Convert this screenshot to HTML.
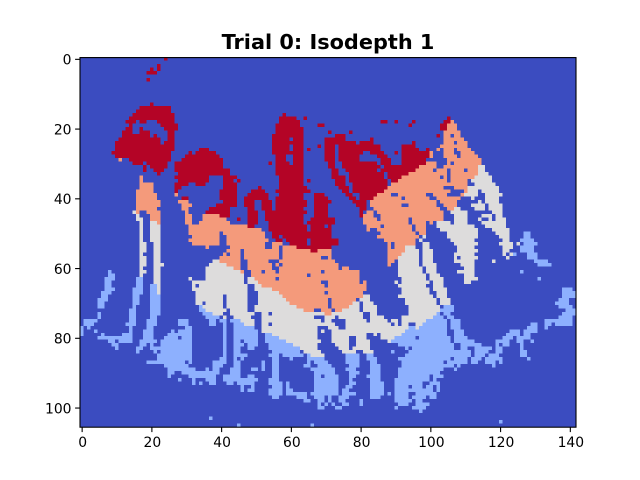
<!DOCTYPE html>
<html>
<head>
<meta charset="utf-8">
<title>Trial 0: Isodepth 1</title>
<style>
html,body{margin:0;padding:0;background:#fff;}
svg{display:block;}
text{font-family:"DejaVu Sans","Liberation Sans",sans-serif;fill:#000;}
</style>
</head>
<body>
<svg id="chart" width="640" height="480" viewBox="0 0 640 480" xmlns="http://www.w3.org/2000/svg">
<rect x="0" y="0" width="640" height="480" fill="#ffffff"/>
<text x="328" y="49" text-anchor="middle" font-size="20.83" font-weight="bold">Trial 0: Isodepth 1</text>
<g id="cells" shape-rendering="crispEdges"></g>
<g id="ticks"></g>
<rect x="80" y="57.6" width="496" height="369.6" fill="none" stroke="#000" stroke-width="1.1"/>
</svg>
<script>
const xTicks = [0, 20, 40, 60, 80, 100, 120, 140];
const yTicks = [0, 20, 40, 60, 80, 100];
const columnCount = 142;
const levelColors = ["#3b4cc0", "#8db0fe", "#dddcdc", "#f49a7b", "#b40426"];
// Each row lists triples: first column, last column, isodepth level. Unlisted cells are level 0.
const rowRuns = [
[24,24,4],
[],
[22,22,4],
[20,20,4,22,22,4],
[19,21,4],
[],
[19,19,4],
[],[],[],[],[],[],
[20,20,4],
[17,25,4],
[16,25,4],
[15,26,4,58,58,4],
[14,26,4,57,61,4,64,64,4,105,105,4],
[13,15,4,17,18,4,22,26,4,57,62,4,86,87,4,90,90,4,95,95,4,104,105,4,106,106,3],
[14,14,4,23,27,4,56,62,4,68,69,4,94,94,4,103,104,4,105,107,3],
[13,14,4,17,17,4,24,27,4,56,63,4,103,104,4,105,107,3],
[12,14,4,17,19,4,25,26,4,56,63,4,71,71,4,77,77,4,104,108,3],
[12,19,4,21,21,4,25,26,4,55,63,4,73,75,4,102,102,4,104,105,3,107,108,3],
[11,22,4,25,26,4,55,59,4,61,63,4,70,75,4,83,83,4,104,109,3],
[10,22,4,24,26,4,55,63,4,70,78,4,80,83,4,95,95,4,104,106,3,108,110,3],
[10,26,4,55,59,4,61,63,4,68,68,4,70,72,4,74,85,4,92,95,4,103,110,3],
[10,26,4,34,36,4,55,59,4,61,63,4,65,65,4,70,72,4,74,85,4,92,96,4,99,99,4,102,102,3,104,106,3,108,111,3],
[9,25,4,31,31,4,33,38,4,55,63,4,70,72,4,74,80,4,83,86,4,90,90,4,92,99,4,100,100,3,104,106,3,109,112,3],
[10,25,4,30,39,4,56,58,4,61,63,4,70,72,4,74,79,4,85,87,4,92,99,4,100,100,3,104,107,3,109,113,3],
[11,11,3,14,25,4,29,40,4,56,58,4,61,63,4,70,72,4,74,79,4,86,88,4,92,98,4,105,114,3],
[15,17,4,19,24,4,27,40,4,54,54,4,56,59,4,61,63,4,71,72,4,75,84,4,86,88,4,92,98,4,99,101,3,105,105,3,107,114,3],
[18,18,4,20,24,4,27,40,4,56,63,4,71,72,4,75,85,4,87,96,4,97,101,3,104,113,3,114,115,2],
[18,18,4,21,23,4,27,42,4,56,63,4,72,73,4,76,84,4,86,95,4,96,100,3,102,104,3,106,109,3,111,113,3,114,115,2],
[22,22,4,28,42,4,56,63,4,72,73,4,77,86,4,88,93,4,94,104,3,106,113,3,114,116,2],
[17,17,3,27,36,4,41,44,4,57,63,4,72,75,4,77,86,4,88,91,4,92,102,3,104,104,3,106,112,3,113,117,2],
[17,17,3,28,36,4,41,43,4,45,45,4,57,63,4,65,65,4,73,75,4,77,87,4,89,90,4,91,104,3,106,110,3,112,117,2],
[17,20,3,27,30,4,33,35,4,41,44,4,57,63,4,73,75,4,78,87,4,89,110,3,113,118,2],
[17,20,3,27,28,4,41,44,4,51,51,4,57,64,4,74,76,4,78,87,4,88,103,3,107,110,3,111,119,2],
[16,20,3,27,27,4,40,44,4,49,52,4,56,65,4,75,76,4,78,86,4,87,105,3,110,110,3,111,113,2,115,119,2],
[16,21,3,27,27,3,40,44,4,48,53,4,57,63,4,67,69,4,76,77,4,80,84,4,85,88,3,91,98,3,101,104,3,109,109,3,110,113,2,116,120,2],
[16,21,3,29,30,4,40,44,4,47,53,4,56,63,4,67,70,4,77,78,4,80,83,4,84,91,3,93,99,3,102,108,3,112,112,2,116,119,2],
[16,22,3,28,30,3,41,44,4,47,49,4,52,54,4,56,64,4,67,71,4,78,81,4,83,101,3,103,107,3,114,114,2,116,119,2],
[16,22,3,29,31,3,39,44,4,47,49,4,52,54,4,56,64,4,67,70,4,79,81,4,83,91,3,94,101,3,104,107,3,112,115,2,117,120,2],
[16,21,3,29,30,3,37,42,4,48,49,4,52,54,4,56,63,4,67,70,4,80,81,4,84,102,3,105,106,3,107,108,2,113,115,2,117,120,2],
[15,15,2,16,16,3,19,22,3,30,30,3,36,42,4,48,50,4,53,64,4,67,70,4,80,80,4,82,83,3,85,103,3,106,110,2,118,120,2],
[16,16,2,20,22,3,30,31,3,35,39,3,40,42,4,48,50,4,53,63,4,67,70,4,80,80,4,81,83,3,86,103,3,107,110,2,115,117,2,119,120,2],
[16,17,2,20,22,3,30,31,3,35,41,3,45,45,4,48,50,4,53,63,4,66,72,4,81,84,3,86,93,3,95,103,3,107,110,2,114,114,2,117,117,2,119,121,2],
[17,17,2,20,21,2,22,22,3,30,31,3,34,42,3,48,50,4,54,63,4,65,72,4,81,93,3,95,98,3,100,100,3,102,105,2,107,110,2,115,121,2],
[17,17,2,20,22,2,31,47,3,48,49,4,54,64,4,66,69,4,71,71,4,82,85,3,87,94,3,96,98,3,102,112,2,116,121,2],
[17,17,2,20,22,2,31,51,3,54,64,4,66,71,4,82,82,3,85,94,3,96,98,3,103,113,2,118,122,2],
[17,17,2,20,22,2,31,39,3,41,52,3,55,71,4,86,95,3,97,98,3,105,113,2,119,122,2,127,128,1],
[17,17,2,20,22,2,32,39,3,42,52,3,55,56,4,58,71,4,85,96,3,98,98,2,105,113,2,120,122,2,127,128,1],
[17,17,2,20,22,2,31,39,3,42,53,3,56,57,4,59,64,4,66,73,4,87,95,3,97,97,2,106,112,2,121,122,2,126,129,1],
[17,18,2,21,22,2,32,39,3,42,52,3,55,57,3,60,64,4,66,73,4,88,88,3,90,95,3,98,99,2,107,113,2,120,123,2,125,125,2,127,130,1],
[17,18,2,21,22,2,36,36,3,43,52,3,55,56,3,58,61,3,62,71,4,88,88,3,90,92,3,93,95,2,98,99,2,108,112,2,121,123,2,126,129,1],
[17,18,2,21,22,2,42,45,3,47,56,3,58,65,3,66,67,4,68,71,3,88,92,3,93,96,2,98,100,2,108,113,2,121,122,2,126,129,1],
[17,17,2,21,22,2,41,41,3,43,45,3,47,56,3,58,71,3,88,91,3,92,96,2,98,100,2,107,112,2,121,121,2,123,123,2,124,124,1,128,130,1],
[17,18,2,21,22,2,40,45,3,47,56,3,58,68,3,71,71,3,88,90,3,91,96,2,98,100,2,107,107,2,109,113,2,122,122,2,128,130,1],
[17,18,2,21,22,2,38,39,2,40,45,3,48,53,3,57,72,3,88,89,3,91,96,2,98,100,2,107,112,2,118,118,2,130,133,1],
[17,18,2,21,23,2,37,41,2,42,45,3,48,54,3,56,56,3,58,73,3,88,88,3,91,96,2,98,101,2,109,112,2,131,134,1],
[17,17,2,21,22,2,36,43,2,44,45,3,48,54,3,57,73,3,75,76,3,91,97,2,99,101,2,110,112,2],
[8,8,1,17,18,2,21,22,2,36,45,2,46,46,3,49,51,3,53,55,3,57,68,3,70,79,3,91,97,2,99,101,2,108,112,2,126,126,1],
[8,9,1,17,17,2,21,22,2,36,46,2,49,64,3,66,79,3,91,98,2,100,102,2,110,112,2],
[7,9,1,16,17,1,21,22,2,31,31,2,36,46,2,48,49,2,50,55,3,57,79,3,92,98,2,100,103,2,110,113,2,131,131,1],
[7,8,1,16,17,1,21,22,2,32,46,2,48,50,2,51,68,3,71,79,3,81,81,3,90,90,2,92,99,2,101,103,2,110,111,2],
[7,8,1,16,17,1,20,21,1,22,22,2,32,32,2,34,47,2,50,51,2,52,69,3,71,81,3,91,98,2,101,103,2],
[7,9,1,15,17,1,20,21,1,22,22,2,32,47,2,50,54,2,55,81,3,92,99,2,101,104,2,138,140,1],
[6,8,1,15,17,1,20,21,1,22,22,2,33,47,2,51,56,2,57,69,3,71,80,3,92,99,2,102,104,2,138,141,1],
[6,7,1,15,16,1,20,22,1,33,40,2,42,47,2,51,57,2,58,80,3,81,82,2,91,100,2,102,104,2,138,141,1],
[5,7,1,15,16,1,20,22,1,33,40,2,42,47,2,51,58,2,59,70,3,72,78,3,80,82,2,93,101,2,103,105,2,137,139,1],
[5,6,1,15,16,1,20,22,1,33,34,2,36,40,2,42,47,2,51,59,2,60,70,3,72,77,3,78,79,2,81,83,2,93,101,2,103,105,2,136,139,1],
[5,6,1,15,15,1,20,22,1,34,34,1,35,40,2,42,47,2,50,61,2,62,70,3,72,76,3,77,79,2,81,84,2,94,102,2,104,106,1,137,140,1],
[14,15,1,20,22,1,34,35,1,36,41,2,43,47,2,50,63,2,64,66,3,69,71,3,73,74,3,75,79,2,81,84,2,94,102,2,103,103,1,104,106,1,139,141,1],
[5,5,1,14,15,1,20,22,1,35,37,1,38,40,2,43,47,2,48,49,2,52,53,2,55,69,2,70,71,3,72,80,2,83,84,2,94,101,2,102,102,1,104,105,1,138,141,1],
[5,5,1,14,15,1,20,21,1,36,39,1,41,41,2,44,48,2,52,66,2,70,72,2,74,80,2,83,86,2,92,100,2,101,103,1,105,106,1,137,140,1],
[1,4,1,14,15,1,19,21,1,28,30,1,37,38,1,40,41,1,43,45,1,46,49,2,52,68,2,70,71,2,76,81,2,83,87,2,89,90,2,92,98,2,99,104,1,106,108,1,133,140,1],
[1,3,1,13,15,1,19,21,1,28,30,1,37,38,1,41,41,1,44,46,1,47,49,2,52,53,2,55,72,2,76,88,2,90,90,2,92,93,2,96,97,2,98,104,1,106,108,1,129,130,1,133,134,1,136,140,1],
[0,0,1,2,2,1,14,14,1,19,20,1,30,31,1,41,41,1,44,49,1,52,67,2,71,73,2,76,93,2,94,95,1,96,96,2,97,104,1,106,108,1,128,130,1,133,133,1],
[0,0,1,4,4,1,14,14,1,18,20,1,26,26,1,28,31,1,41,41,1,44,50,1,52,67,2,69,69,2,72,92,2,93,104,1,107,109,1,123,125,1,127,130,1],
[0,0,1,6,6,1,12,14,1,18,20,1,25,31,1,41,41,1,44,50,1,53,54,1,55,67,2,72,81,2,84,84,2,86,91,2,92,104,1,107,109,1,122,125,1,127,128,1],
[5,14,1,18,20,1,24,27,1,29,31,1,41,41,1,44,50,1,53,56,1,57,67,2,72,76,2,79,81,2,86,89,2,90,95,1,97,105,1,107,110,1,121,123,1,125,128,1],
[8,9,1,11,14,1,17,21,1,23,31,1,41,41,1,44,45,1,47,50,1,53,58,1,59,68,2,72,76,2,79,82,2,88,88,2,89,105,1,107,112,1,119,122,1,125,126,1,129,129,1],
[9,10,1,17,18,1,20,20,1,23,31,1,41,41,1,44,46,1,48,50,1,54,60,1,61,67,2,73,76,2,79,82,2,91,106,1,109,114,1,119,119,1,121,122,1,126,126,1],
[10,10,1,16,17,1,20,31,1,41,41,1,44,45,1,48,49,1,54,62,1,63,67,2,74,76,2,78,82,2,93,93,1,95,106,1,109,110,1,113,117,1,119,120,1,126,126,1],
[16,16,1,21,21,1,23,31,1,41,41,1,44,45,1,55,62,1,64,68,2,75,78,2,81,83,2,89,89,1,94,111,1,113,116,1,119,120,1,126,127,1],
[22,31,1,41,41,1,44,47,1,54,56,1,58,63,1,65,65,1,66,69,2,76,79,1,82,83,1,93,111,1,113,115,1,117,119,1,126,127,1],
[22,31,1,40,41,1,44,44,1,46,46,1,55,56,1,60,60,1,65,69,1,76,79,1,82,84,1,91,105,1,107,110,1,112,114,1,116,120,1,128,128,1],
[19,20,1,21,29,1,31,31,1,38,41,1,44,45,1,52,52,1,55,56,1,65,65,1,67,70,1,76,79,1,83,84,1,92,103,1,105,110,1,112,113,1,116,118,1,120,120,1],
[24,30,1,38,40,1,44,45,1,52,52,1,55,56,1,64,65,1,68,71,1,77,79,1,83,85,1,92,106,1,108,108,1,118,118,1],
[25,31,1,32,32,1,36,36,1,38,39,1,43,45,1,49,50,1,52,52,1,55,56,1,66,72,1,76,78,1,83,85,1,91,103,1,107,107,1],
[25,26,1,29,39,1,43,45,1,55,56,1,67,72,1,77,79,1,83,85,1,91,102,1],
[25,25,1,31,38,1,41,45,1,48,49,1,55,56,1,67,68,1,70,73,1,77,78,1,82,85,1,91,99,1,101,103,1],
[28,28,1,32,32,1,36,38,1,41,50,1,54,56,1,67,73,1,77,77,1,83,85,1,90,99,1,101,101,1],
[32,32,1,34,34,1,37,38,1,42,43,1,45,49,1,54,57,1,59,59,1,67,73,1,77,78,1,83,86,1,90,97,1,100,102,1],
[46,46,1,49,49,1,55,57,1,59,59,1,67,73,1,76,77,1,83,86,1,90,93,1,95,97,1,99,100,1,102,102,1],
[46,46,1,48,49,1,54,57,1,59,60,1,67,73,1,75,76,1,83,86,1,90,100,1,102,102,1],
[54,57,1,59,64,1,66,73,1,75,78,1,83,86,1,88,88,1,90,93,1,96,101,1],
[55,56,1,62,64,1,67,69,1,71,71,1,74,76,1,83,85,1,90,93,1,95,98,1,100,101,1],
[64,65,1,68,69,1,71,71,1,74,75,1,80,80,1,90,94,1,96,97,1],
[68,68,1,70,70,1,72,72,1,75,76,1,80,80,1,91,93,1,96,99,1],
[68,69,1,73,74,1,90,90,1,95,98,1],
[97,97,1],
[],
[37,37,1],
[120,120,1],
[45,45,1,66,66,1]
];

const SVG_NS = "http://www.w3.org/2000/svg";
const frameBottom = 427.2, frameLeft = 80;
// Raster cell edges (the image is resampled onto whole pixels)
function colX(c) { return 80 + c * 3.493; }
function rowY(r) { return 57 + r * 3.4906; }
// Data-to-pixel scales for tick marks
function tickX(v) { return 80.4 + (v + 0.5) * 3.487; }
function tickY(v) { return 57.6 + (v + 0.5) * 3.487; }

const cellsGroup = document.getElementById("cells");
const ticksGroup = document.getElementById("ticks");

rowRuns.forEach(function (runs, r) {
  const grid = new Array(columnCount).fill(0);
  for (let i = 0; i + 2 < runs.length; i += 3) {
    for (let c = runs[i]; c <= runs[i + 1] && c < columnCount; c++) {
      grid[c] = runs[i + 2];
    }
  }
  let start = 0;
  for (let c = 1; c <= columnCount; c++) {
    if (c === columnCount || grid[c] !== grid[start]) {
      const cell = document.createElementNS(SVG_NS, "rect");
      cell.setAttribute("x", colX(start));
      cell.setAttribute("y", rowY(r));
      cell.setAttribute("width", colX(c) - colX(start));
      cell.setAttribute("height", rowY(r + 1) - rowY(r));
      cell.setAttribute("fill", levelColors[grid[start]]);
      
      
      cellsGroup.appendChild(cell);
      start = c;
    }
  }
});

xTicks.forEach(function (v) {
  const px = tickX(v);
  const mark = document.createElementNS(SVG_NS, "line");
  mark.setAttribute("x1", px);
  mark.setAttribute("x2", px);
  mark.setAttribute("y1", frameBottom);
  mark.setAttribute("y2", frameBottom + 4.9);
  mark.setAttribute("stroke", "#000");
  mark.setAttribute("stroke-width", "1.1");
  
  
  ticksGroup.appendChild(mark);
  const label = document.createElementNS(SVG_NS, "text");
  label.setAttribute("x", px + 0.5);
  label.setAttribute("y", frameBottom + 20);
  label.setAttribute("text-anchor", "middle");
  label.setAttribute("font-size", "13.9");
  
  
  label.textContent = v;
  ticksGroup.appendChild(label);
});

yTicks.forEach(function (v) {
  const py = tickY(v);
  const mark = document.createElementNS(SVG_NS, "line");
  mark.setAttribute("x1", frameLeft - 4.9);
  mark.setAttribute("x2", frameLeft);
  mark.setAttribute("y1", py);
  mark.setAttribute("y2", py);
  mark.setAttribute("stroke", "#000");
  mark.setAttribute("stroke-width", "1.1");
  
  
  ticksGroup.appendChild(mark);
  const label = document.createElementNS(SVG_NS, "text");
  label.setAttribute("x", frameLeft - 8.5);
  label.setAttribute("y", py + 5.3);
  label.setAttribute("text-anchor", "end");
  label.setAttribute("font-size", "13.9");
  
  
  label.textContent = v;
  ticksGroup.appendChild(label);
});
</script>
</body>
</html>
